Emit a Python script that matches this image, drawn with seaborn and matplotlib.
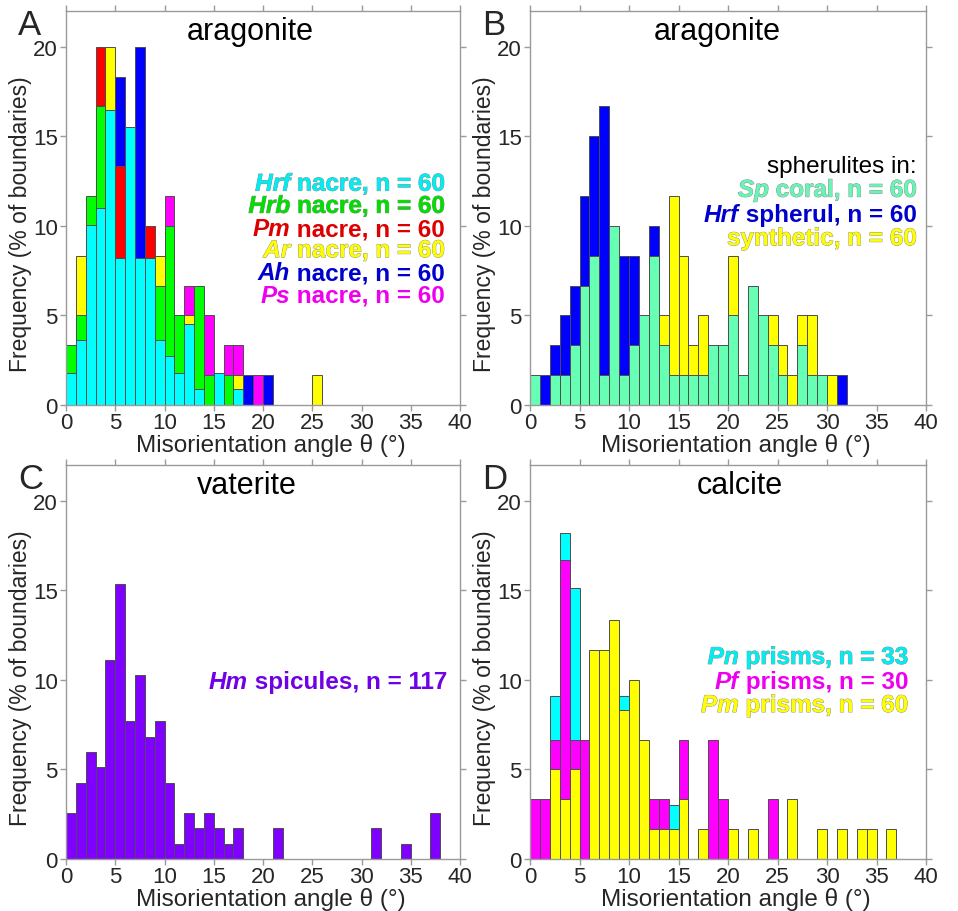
import numpy as np
import pandas as pd
import matplotlib
matplotlib.use("Agg")
import matplotlib.pyplot as plt
import matplotlib.patheffects as pe
import seaborn as sns

# ---------------- data (frequency in % per 1-degree bin, bins 0-1 ... 39-40) ----------------
bin_edges = list(range(0, 41))
x_ticks = [0, 5, 10, 15, 20, 25, 30, 35, 40]
y_ticks = [0, 5, 10, 15, 20]

# Panel A - aragonite nacre
a_hrf = [1.80, 3.65, 10.05, 10.98, 16.48, 8.22, 15.55, 8.22, 8.22, 3.65, 2.73, 1.80, 4.54, 0.91, 0, 1.80, 0, 0.91, 0, 0,
         0, 0, 0, 0, 0, 0, 0, 0, 0, 0, 0, 0, 0, 0, 0, 0, 0, 0, 0, 0]
a_hrb = [3.33, 5.00, 11.67, 16.67, 0, 0, 0, 0, 0, 6.67, 10.00, 5.00, 0, 6.67, 1.67, 0, 1.67, 0, 0, 0,
         0, 0, 0, 0, 0, 0, 0, 0, 0, 0, 0, 0, 0, 0, 0, 0, 0, 0, 0, 0]
a_pm = [0, 0, 0, 20.00, 0, 13.33, 0, 0, 10.00, 0, 0, 0, 0, 0, 0, 0, 0, 0, 0, 0,
        0, 0, 0, 0, 0, 0, 0, 0, 0, 0, 0, 0, 0, 0, 0, 0, 0, 0, 0, 0]
a_ar = [0, 8.33, 0, 0, 20.00, 0, 0, 0, 0, 8.33, 0, 0, 5.00, 0, 0, 0, 0, 1.67, 0, 0,
        0, 0, 0, 0, 0, 1.67, 0, 0, 0, 0, 0, 0, 0, 0, 0, 0, 0, 0, 0, 0]
a_ah = [0, 0, 0, 0, 0, 18.33, 0, 20.00, 0, 0, 0, 0, 0, 0, 0, 0, 0, 0, 1.67, 0,
        1.67, 0, 0, 0, 0, 0, 0, 0, 0, 0, 0, 0, 0, 0, 0, 0, 0, 0, 0, 0]
a_ps = [0, 0, 0, 0, 0, 0, 0, 0, 0, 0, 11.67, 0, 6.67, 0, 5.00, 0, 3.33, 3.33, 0, 1.67,
        0, 0, 0, 0, 0, 0, 0, 0, 0, 0, 0, 0, 0, 0, 0, 0, 0, 0, 0, 0]

# Panel B - aragonite spherulites
b_sp = [1.67, 0, 1.67, 1.67, 3.33, 6.67, 8.33, 1.67, 10.00, 1.67, 3.33, 5.00, 8.33, 3.33, 1.67, 1.67, 1.67, 1.67, 3.33, 3.33,
        5.00, 1.67, 6.67, 5.00, 3.33, 1.67, 0, 3.33, 1.67, 1.67, 0, 0, 0, 0, 0, 0, 0, 0, 0, 0]
b_hrf = [0, 1.67, 3.33, 5.00, 6.67, 11.67, 15.00, 16.67, 0, 8.33, 8.33, 0, 10.00, 0, 0, 0, 0, 0, 0, 0,
         0, 0, 0, 0, 0, 0, 0, 0, 0, 0, 0, 1.67, 0, 0, 0, 0, 0, 0, 0, 0]
b_syn = [0, 0, 0, 0, 0, 0, 0, 0, 0, 0, 0, 0, 0, 5.00, 11.67, 8.33, 3.33, 5.00, 0, 0,
         8.33, 0, 0, 0, 5.00, 3.33, 1.67, 5.00, 5.00, 0, 1.67, 0, 0, 0, 0, 0, 0, 0, 0, 0]

# Panel C - vaterite spicules
c_hm = [2.56, 4.27, 5.98, 5.13, 11.11, 15.38, 7.69, 10.26, 6.84, 7.69, 4.27, 0.85, 2.56, 1.71, 2.56, 1.71, 0.85, 1.71, 0, 0,
        0, 1.71, 0, 0, 0, 0, 0, 0, 0, 0, 0, 1.71, 0, 0, 0.85, 0, 0, 2.56, 0, 0]

# Panel D - calcite prisms
d_pn = [0, 0, 9.09, 18.18, 15.15, 0, 0, 0, 0, 9.09, 0, 0, 0, 0, 3.03, 0, 0, 0, 0, 0,
        0, 0, 0, 0, 0, 0, 0, 0, 0, 0, 0, 0, 0, 0, 0, 0, 0, 0, 0, 0]
d_pf = [3.33, 3.33, 6.67, 16.67, 6.67, 6.67, 0, 0, 0, 0, 0, 0, 3.33, 3.33, 0, 6.67, 0, 0, 6.67, 3.33,
        0, 0, 0, 0, 3.33, 0, 0, 0, 0, 0, 0, 0, 0, 0, 0, 0, 0, 0, 0, 0]
d_pm = [0, 0, 5.00, 3.33, 5.00, 0, 11.67, 11.67, 13.33, 8.33, 10.00, 6.67, 1.67, 1.67, 1.67, 3.33, 0, 1.67, 0, 0,
        1.67, 0, 1.67, 0, 0, 0, 3.33, 0, 0, 1.67, 0, 1.67, 0, 1.67, 1.67, 0, 1.67, 0, 0, 0]

# legend text pieces: (species italic, rest)
a_labels = [("Hrf", " nacre, n = 60"), ("Hrb", " nacre, n = 60"), ("Pm", " nacre, n = 60"),
            ("Ar", " nacre, n = 60"), ("Ah", " nacre, n = 60"), ("Ps", " nacre, n = 60")]
b_header = "spherulites in:"
b_labels = [("Sp", " coral, n = 60"), ("Hrf", " spherul, n = 60"), ("", "synthetic, n = 60")]
c_labels = [("Hm", " spicules, n = 117")]
d_labels = [("Pn", " prisms, n = 33"), ("Pf", " prisms, n = 30"), ("Pm", " prisms, n = 60")]

# ---------------- style ----------------
sns.set_style("white")
plt.rcParams["font.family"] = ["Liberation Sans", "DejaVu Sans"]
plt.rcParams["axes.linewidth"] = 1.0

CYAN, GREEN, RED, YELLOW, BLUE, MAGENTA = "#00FFFF", "#00FF00", "#FF0000", "#FFFF00", "#0000FF", "#FF00FF"
MINT, PURPLE = "#66FFB4", "#8000FF"
TXT = {CYAN: "#00EEF2", GREEN: "#00E000", RED: "#DD0000", YELLOW: "#FFFF00", BLUE: "#0000CC",
       MAGENTA: "#EE00EE", MINT: "#66F5B4", PURPLE: "#7000E6"}
OUTLINE = {CYAN, GREEN, YELLOW, MINT}

fig = plt.figure(figsize=(9.58, 9.12), dpi=100)
W, H = 958, 912


def make_ax(left, top, width, height):
    return fig.add_axes([left / W, (H - top - height) / H, width / W, height / H])


axA = make_ax(66, 12, 394, 394)
axB = make_ax(530, 12, 396, 394)
axC = make_ax(66, 466, 394, 394)
axD = make_ax(530, 466, 396, 394)


def draw_hist(ax, series, colors):
    rows = []
    for name, vals in series.items():
        for i, v in enumerate(vals):
            if v > 0:
                rows.append((bin_edges[i] + 0.5, v, name))
    df = pd.DataFrame(rows, columns=["angle", "freq", "series"])
    sns.histplot(data=df, x="angle", weights="freq", hue="series", hue_order=list(series),
                 palette=dict(zip(series, colors)), bins=bin_edges, multiple="layer",
                 element="bars", fill=True, alpha=1, edgecolor="#4d4d4d", linewidth=0.7,
                 legend=False, ax=ax)
    for p in ax.patches:
        h = p.get_height()
        if h <= 0:
            p.set_visible(False)
        else:
            p.set_zorder(2 + (30 - h) / 100.0)


def style_ax(ax, letter, title, title_x):
    ax.set_xlim(0, 40)
    ax.set_ylim(0, 22)
    ax.set_xticks(x_ticks)
    ax.set_yticks(y_ticks)
    for s in ax.spines.values():
        s.set_color("#9a9a9a")
        s.set_linewidth(1.0)
        s.set_zorder(5)
    ax.tick_params(direction="out", length=4, width=1, color="#9a9a9a", labelsize=16,
                   top=True, right=True, bottom=True, left=True,
                   labeltop=False, labelright=False, pad=2)
    ax.tick_params(axis="x", pad=1)
    ax.set_xlabel("Misorientation angle θ (°)", fontsize=17.5)
    ax.set_ylabel("Frequency (% of boundaries)", fontsize=16.5)
    ax.xaxis.set_label_coords(0.52, -0.072)
    ax.yaxis.set_label_coords(-0.086, 0.462)
    ax.text(title_x, 0.929, title, transform=ax.transAxes, ha="center", va="baseline",
            fontsize=22, color="black")
    pos = ax.get_position()
    fig.text(pos.x0 - 48 / W, pos.y1 - 23 / H, letter, fontsize=25, ha="left", va="baseline")


def legend_lines(ax, labels, colors, x_right, y_first, step, fs=17.5):
    for k, ((sp, rest), col) in enumerate(zip(labels, colors)):
        tc = TXT[col]
        eff = [pe.withStroke(linewidth=0.6, foreground="#8c8c8c")] if col in OUTLINE else []
        t = ax.text(x_right, y_first - k * step, rest, transform=ax.transAxes, ha="right",
                    va="baseline", fontsize=fs, fontweight="bold", color=tc, path_effects=eff,
                    zorder=10)
        if sp:
            ax.annotate(sp, xy=(0, 0), xycoords=t, ha="right", va="bottom", fontsize=fs,
                        fontweight="bold", fontstyle="italic", color=tc, path_effects=eff,
                        zorder=10)


# Panel A
colsA = [CYAN, GREEN, RED, YELLOW, BLUE, MAGENTA]
draw_hist(axA, {"Hrf": a_hrf, "Hrb": a_hrb, "Pm": a_pm, "Ar": a_ar, "Ah": a_ah, "Ps": a_ps}, colsA)
style_ax(axA, "A", "aragonite", 0.467)
legend_lines(axA, a_labels, colsA, 0.962, 0.544, 0.0563)

# Panel B
colsB = [MINT, BLUE, YELLOW]
draw_hist(axB, {"Sp": b_sp, "Hrf": b_hrf, "syn": b_syn}, colsB)
style_ax(axB, "B", "aragonite", 0.472)
axB.text(0.977, 0.591, b_header, transform=axB.transAxes, ha="right", va="baseline",
         fontsize=17.5, color="black")
legend_lines(axB, b_labels, colsB, 0.977, 0.591 - 0.0625, 0.0615)

# Panel C
draw_hist(axC, {"Hm": c_hm}, [PURPLE])
style_ax(axC, "C", "vaterite", 0.46)
legend_lines(axC, c_labels, [PURPLE], 0.967, 0.434, 0.06)

# Panel D
colsD = [CYAN, MAGENTA, YELLOW]
draw_hist(axD, {"Pn": d_pn, "Pf": d_pf, "Pm": d_pm}, colsD)
style_ax(axD, "D", "calcite", 0.53)
legend_lines(axD, d_labels, colsD, 0.955, 0.495, 0.061)

fig.savefig("out.png", dpi=100, facecolor="white")
